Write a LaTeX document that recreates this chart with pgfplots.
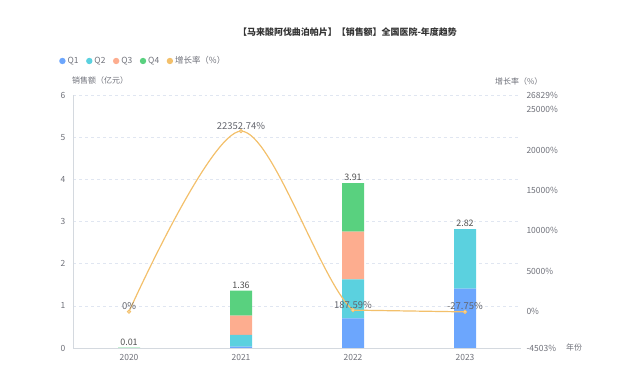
\documentclass[border=0pt]{standalone}
\usepackage{pgfplots}
\usepackage{pgfplotstable}
\pgfplotsset{compat=1.18}
\usepackage{fontspec}
\setmainfont{Noto Sans CJK SC}
\definecolor{q1}{HTML}{6CA6FD}
\definecolor{q2}{HTML}{5BD1DF}
\definecolor{q3}{HTML}{FDAD8F}
\definecolor{q4}{HTML}{59D17F}
\definecolor{lineor}{HTML}{F3C06B}
\definecolor{markfill}{HTML}{F8DCA8}
\definecolor{lbl}{HTML}{6E7079}
\definecolor{gridc}{HTML}{E0E6F1}
\definecolor{axc}{HTML}{D4D9DF}
\definecolor{ttl}{HTML}{333333}
\pgfplotstableread{
x  y
0  0
1  22352.74
2  187.59
3  -27.75
}\growth
\pgfplotsset{
  base/.style={
    at={(73bp,34bp)}, anchor=south west,
    width=448bp, height=253bp, scale only axis,
    xmin=-0.5, xmax=3.5,
    tick label style={font=\fontsize{8.5}{9}\selectfont, text=lbl},
    /pgf/number format/assume math mode=true,
  }
}
\begin{document}
\begin{tikzpicture}
\useasboundingbox (0,0) rectangle (629bp,382bp);
% bars
\begin{axis}[base,
  ymin=0, ymax=6,
  ybar stacked, bar width=22bp,
  xtick={0,1,2,3}, xticklabels={2020,2021,2022,2023},
  extra x ticks={-0.5,0.5,1.5,2.5,3.5}, extra x tick labels={},
  extra x tick style={major tick length=4bp, tick style={draw=lbl, line width=0.5bp}},
  tick align=outside,
  major x tick style={draw=none},
  ytick={0,1,2,3,4,5,6},
  major y tick style={draw=none},
  ymajorgrids, grid style={dashed, draw=gridc, line width=0.6bp},
  axis x line*=bottom, axis y line*=left,
  axis line style={-, draw=axc, line width=0.7bp},
  xticklabel style={yshift=1bp},
]
\addplot[fill=q1, draw=none] coordinates {(0,0) (1,0.03) (2,0.70) (3,1.41)};
\addplot[fill=q2, draw=none] coordinates {(0,0) (1,0.28) (2,0.93) (3,1.41)};
\addplot[fill=q3, draw=none] coordinates {(0,0) (1,0.46) (2,1.13) (3,0)};
\addplot[fill=q4, draw=none] coordinates {(0,0.01) (1,0.59) (2,1.15) (3,0)};
\end{axis}
% bar totals
\begin{axis}[base, ymin=0, ymax=6, hide axis]
\addplot[draw=none, mark=none, nodes near coords, point meta=explicit symbolic,
  nodes near coords style={font=\fontsize{9}{10}\selectfont, text=ttl!85, anchor=south, inner sep=2bp}]
  coordinates {(0,0.01)[0.01] (1,1.36)[1.36] (2,3.91)[3.91] (3,2.82)[2.82]};
\end{axis}
% growth rate
\begin{axis}[base,
  ymin=-4503, ymax=26829,
  axis x line=none, axis y line*=right,
  y axis line style={draw=none},
  scaled y ticks=false,
  ytick={-4503,0,5000,10000,15000,20000,25000,26829},
  yticklabels={-4503\%,0\%,5000\%,10000\%,15000\%,20000\%,25000\%,26829\%},
  major y tick style={draw=none},
  yticklabel style={anchor=west, xshift=2bp},
  legend image code/.code={\fill[#1] (0bp,0bp) circle (3.2bp);},
  legend style={at={(-0.0312,1.1344)}, anchor=west, draw=none, fill=none,
    inner sep=0pt, font=\fontsize{8.5}{9}\selectfont, text=lbl,
    legend columns=-1,
    /tikz/every even column/.append style={column sep=5.5bp}},
  clip=false,
]
\addlegendimage{fill=q1, draw=none}
\addlegendentry{Q1}
\addlegendimage{fill=q2, draw=none}
\addlegendentry{Q2}
\addlegendimage{fill=q3, draw=none}
\addlegendentry{Q3}
\addlegendimage{fill=q4, draw=none}
\addlegendentry{Q4}
\addlegendimage{fill=lineor, draw=none}
\addlegendentry{增长率（\%）}
\begin{scope}
\clip (axis cs:-0.6,-6000) rectangle (axis cs:2,30000);
\addplot[smooth, tension=0.5, draw=lineor, line width=1.2bp, mark=none, forget plot]
  table[x=x, y=y] {\growth};
\end{scope}
\addplot[sharp plot, draw=lineor, line width=1.2bp, mark=none, forget plot,
  restrict x to domain=2:3]
  table[x=x, y=y] {\growth};
\addplot[only marks, mark=*, mark size=1.7bp,
  mark options={fill=markfill, draw=lineor, line width=0.8bp},
  nodes near coords={\pgfmathprintnumber[fixed, precision=2, 1000 sep={}]{\pgfplotspointmeta}\%},
  point meta=y,
  nodes near coords style={font=\fontsize{9.5}{10}\selectfont, text=lbl!90!black, anchor=south, inner sep=1.5bp},
  forget plot]
  table[x=x, y=y] {\growth};
\end{axis}
\node[font=\bfseries\fontsize{9}{10}\selectfont, text=ttl] at (347.5bp,350bp) {【马来酸阿伐曲泊帕片】【销售额】全国医院-年度趋势};
\node[font=\fontsize{8}{9}\selectfont, text=lbl, anchor=west, inner sep=0pt] at (72bp,302bp) {销售额（亿元）};
\node[font=\fontsize{8}{9}\selectfont, text=lbl, anchor=west, inner sep=0pt] at (495bp,301bp) {增长率（\%）};
\node[font=\fontsize{8}{9}\selectfont, text=lbl, anchor=west, inner sep=0pt] at (566bp,35bp) {年份};
\end{tikzpicture}
\end{document}
